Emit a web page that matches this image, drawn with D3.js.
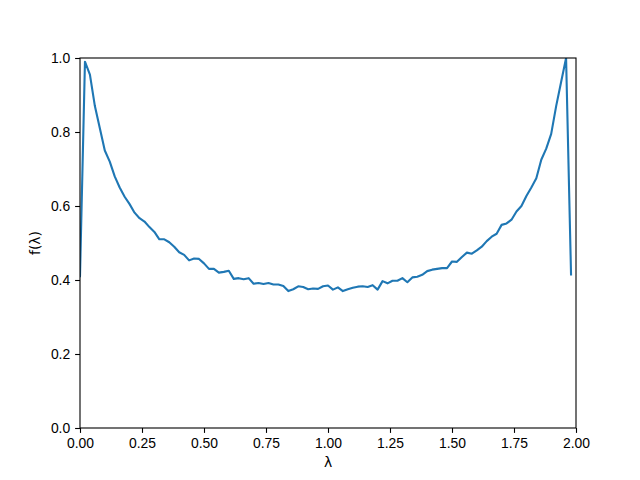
<!DOCTYPE html>
<html>
<head>
<meta charset="utf-8">
<script src="https://cdn.jsdelivr.net/npm/d3@7"></script>
<style>
  body { margin: 0; background: #fff; }
  svg { display: block; font-family: "DejaVu Sans", sans-serif; }
  .tick text { font-size: 13.9px; fill: #000; }
  .tick line { stroke: #000; stroke-width: 1.1px; }
  .domain { stroke: none; }
</style>
</head>
<body>
<div id="chart"></div>
<script>
  const lambdas = [
    0.00, 0.02, 0.04, 0.06, 0.08, 0.10, 0.12, 0.14, 0.16, 0.18,
    0.20, 0.22, 0.24, 0.26, 0.28, 0.30, 0.32, 0.34, 0.36, 0.38,
    0.40, 0.42, 0.44, 0.46, 0.48, 0.50, 0.52, 0.54, 0.56, 0.58,
    0.60, 0.62, 0.64, 0.66, 0.68, 0.70, 0.72, 0.74, 0.76, 0.78,
    0.80, 0.82, 0.84, 0.86, 0.88, 0.90, 0.92, 0.94, 0.96, 0.98,
    1.00, 1.02, 1.04, 1.06, 1.08, 1.10, 1.12, 1.14, 1.16, 1.18,
    1.20, 1.22, 1.24, 1.26, 1.28, 1.30, 1.32, 1.34, 1.36, 1.38,
    1.40, 1.42, 1.44, 1.46, 1.48, 1.50, 1.52, 1.54, 1.56, 1.58,
    1.60, 1.62, 1.64, 1.66, 1.68, 1.70, 1.72, 1.74, 1.76, 1.78,
    1.80, 1.82, 1.84, 1.86, 1.88, 1.90, 1.92, 1.94, 1.96, 1.98
  ];

  const fValues = [
    0.410, 0.990, 0.955, 0.870, 0.810, 0.750, 0.720, 0.680, 0.650, 0.625,
    0.605, 0.582, 0.567, 0.558, 0.543, 0.530, 0.510, 0.510, 0.502, 0.490,
    0.475, 0.468, 0.453, 0.458, 0.457, 0.445, 0.430, 0.430, 0.420, 0.422,
    0.425, 0.403, 0.405, 0.402, 0.405, 0.390, 0.392, 0.389, 0.392, 0.388,
    0.388, 0.384, 0.370, 0.375, 0.383, 0.381, 0.375, 0.377, 0.376, 0.383,
    0.385, 0.374, 0.380, 0.370, 0.375, 0.379, 0.382, 0.383, 0.381, 0.386,
    0.374, 0.397, 0.391, 0.398, 0.398, 0.405, 0.394, 0.407, 0.409, 0.414,
    0.424, 0.428, 0.430, 0.432, 0.432, 0.450, 0.449, 0.462, 0.474, 0.471,
    0.480, 0.490, 0.505, 0.517, 0.525, 0.549, 0.553, 0.563, 0.585, 0.600,
    0.627, 0.650, 0.675, 0.725, 0.755, 0.795, 0.870, 0.935, 1.000, 0.415
  ];

  const xTicks = [0, 0.25, 0.5, 0.75, 1, 1.25, 1.5, 1.75, 2];
  const yTicks = [0, 0.2, 0.4, 0.6, 0.8, 1];

  const w = 640, h = 480;
  const plotLeft = 80, plotRight = 576, plotTop = 58, plotBottom = 428;

  const svg = d3.select("#chart")
    .append("svg")
    .attr("width", w)
    .attr("height", h);

  const xScale = d3.scaleLinear().domain([0, 2]).range([plotLeft, plotRight]);
  const yScale = d3.scaleLinear().domain([0, 1]).range([plotBottom, plotTop]);

  svg.append("clipPath")
    .attr("id", "clip")
    .append("rect")
    .attr("x", plotLeft)
    .attr("y", plotTop)
    .attr("width", plotRight - plotLeft)
    .attr("height", plotBottom - plotTop);

  const line = d3.line()
    .x((d, i) => xScale(lambdas[i]))
    .y(d => yScale(d));

  svg.append("path")
    .datum(fValues)
    .attr("clip-path", "url(#clip)")
    .attr("fill", "none")
    .attr("stroke", "#1f77b4")
    .attr("stroke-width", 2.1)
    .attr("stroke-linejoin", "round")
    .attr("stroke-linecap", "square")
    .attr("d", line);

  const xAxis = d3.axisBottom(xScale)
    .tickValues(xTicks)
    .tickFormat(d3.format(".2f"))
    .tickSize(4.9)
    .tickPadding(4.9);

  const yAxis = d3.axisLeft(yScale)
    .tickValues(yTicks)
    .tickFormat(d3.format(".1f"))
    .tickSize(4.9)
    .tickPadding(4.9);

  svg.append("g")
    .attr("transform", "translate(0," + plotBottom + ")")
    .call(xAxis);

  svg.append("g")
    .attr("transform", "translate(" + plotLeft + ",0)")
    .call(yAxis);

  // frame
  svg.append("rect")
    .attr("x", plotLeft)
    .attr("y", plotTop)
    .attr("width", plotRight - plotLeft)
    .attr("height", plotBottom - plotTop)
    .attr("fill", "none")
    .attr("stroke", "#000")
    .attr("stroke-width", 1.1);

  svg.append("text")
    .attr("x", (plotLeft + plotRight) / 2)
    .attr("y", 467)
    .attr("text-anchor", "middle")
    .style("font-size", "13.9px")
    .text("λ");

  svg.append("text")
    .attr("transform", "translate(40," + (plotTop + plotBottom) / 2 + ") rotate(-90)")
    .attr("text-anchor", "middle")
    .style("font-size", "13.9px")
    .text("f(λ)");
</script>
</body>
</html>
